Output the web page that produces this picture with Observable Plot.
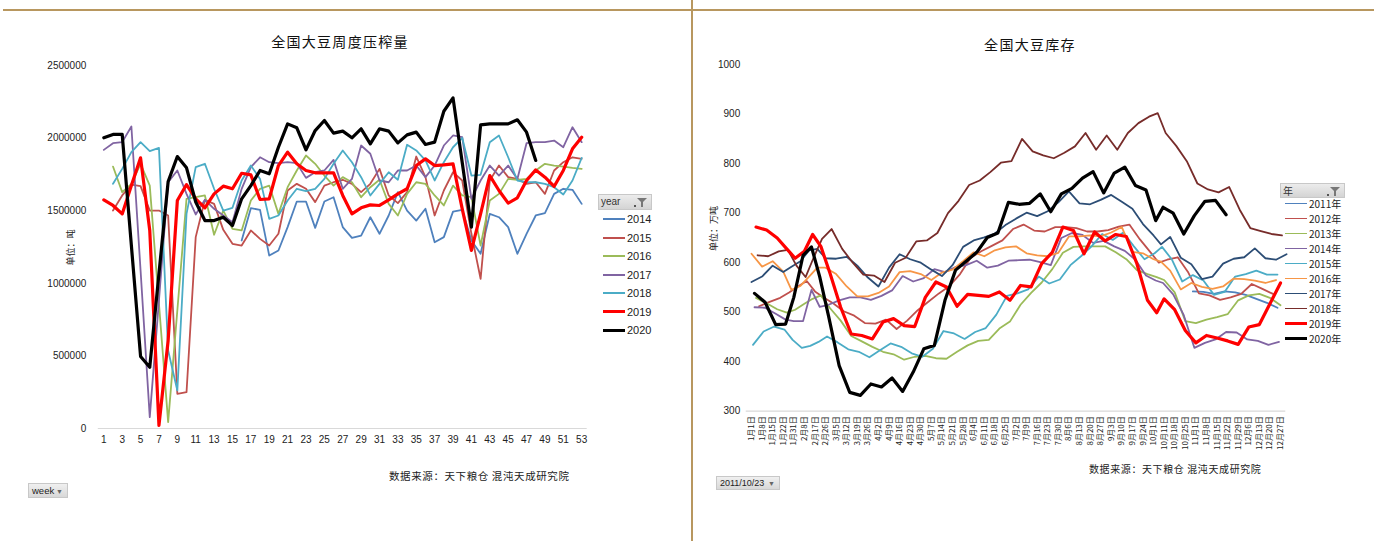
<!DOCTYPE html>
<html><head><meta charset="utf-8">
<script src="https://cdn.jsdelivr.net/npm/d3@7"></script>
<script src="https://cdn.jsdelivr.net/npm/@observablehq/plot@0.6"></script>
<style>
html,body{margin:0;padding:0;background:#fff;}
body{width:1374px;height:541px;position:relative;overflow:hidden;font-family:"Liberation Sans",Arial,sans-serif;color:#222;}
.abs{position:absolute;}
.cjk{font-family:"Noto Sans CJK SC",sans-serif;}
.gold{background:#b8975f;}
.title{font-size:14px;letter-spacing:1.3px;color:#111;text-align:center;white-space:nowrap;}
.src{font-size:10.5px;letter-spacing:0.6px;color:#222;white-space:nowrap;}
.hdr{background:linear-gradient(#ececec,#d4d4d4);border:1px solid #c8c8c8;box-sizing:border-box;font-size:10px;color:#333;}
.funnel{position:absolute;right:4px;top:3px;width:0;height:0;border-left:5px solid transparent;border-right:5px solid transparent;border-top:5px solid #777;}
.stem{position:absolute;right:8px;top:7px;width:2px;height:5px;background:#777;}
.dot{position:absolute;right:15px;top:10px;width:2px;height:2px;background:#555;}
.row{position:absolute;left:0;white-space:nowrap;}
.sw{position:absolute;left:0;width:22px;}
.lab{position:absolute;left:24px;}
.drop{background:linear-gradient(#f0f0f0,#d8d8d8);border:1px solid #c8c8c8;box-sizing:border-box;font-size:9.5px;color:#222;padding-left:3px;}
.arr{position:absolute;right:4px;top:1px;font-size:7px;color:#666;}
</style></head><body>
<div class="abs gold" style="left:3px;top:9px;width:1371px;height:2px;"></div>
<div class="abs gold" style="left:691px;top:0;width:2px;height:541px;"></div>

<div id="left" class="abs" style="left:0;top:0;width:600px;height:460px;"></div>
<div id="right" class="abs" style="left:700px;top:0;width:600px;height:470px;"></div>

<div class="abs cjk title" style="left:240px;top:31px;width:200px;">全国大豆周度压榨量</div>
<div class="abs cjk title" style="left:930px;top:34px;width:200px;">全国大豆库存</div>

<div class="abs cjk" style="left:46px;top:241px;width:48px;font-size:9px;text-align:center;transform:rotate(-90deg);white-space:nowrap;">单位：吨</div>
<div class="abs cjk" style="left:684px;top:222px;width:58px;font-size:9px;text-align:center;transform:rotate(-90deg);white-space:nowrap;">单位：万吨</div>

<div class="abs cjk src" style="left:389px;top:468px;">数据来源：天下粮仓 混沌天成研究院</div>
<div class="abs cjk src" style="left:1089px;top:461px;font-size:10px;">数据来源：天下粮仓 混沌天成研究院</div>

<div class="abs hdr" style="left:598px;top:194px;width:54px;height:16px;line-height:14px;padding-left:2px;">year<div class="dot"></div><div class="funnel"></div><div class="stem"></div></div>
<div id="legL" class="abs" style="left:603px;top:210px;width:70px;height:140px;font-size:11px;"></div>

<div class="abs hdr cjk" style="left:1280px;top:183px;width:65px;height:15px;line-height:13px;padding-left:2px;">年<div class="dot"></div><div class="funnel"></div><div class="stem"></div></div>
<div id="legR" class="abs cjk" style="left:1285px;top:196px;width:80px;height:160px;font-size:10px;"></div>

<div class="abs drop" style="left:28px;top:483px;width:40px;height:15px;line-height:13px;">week<span class="arr">▼</span></div>
<div class="abs drop" style="left:716px;top:476px;width:64px;height:14px;line-height:12px;font-size:9px;">2011/10/23<span class="arr">▼</span></div>

<script>
// ---------------- LEFT: weekly crush (tonnes) ----------------
const weekTickLabels = [1,3,5,7,9,11,13,15,17,19,21,23,25,27,29,31,33,35,37,39,41,43,45,47,49,51,53];
const crushYTicks = [0,500000,1000000,1500000,2000000,2500000];
const crushYears = ["2014","2015","2016","2017","2018","2019","2020"];
const crushColors = ["#4F81BD","#C0504D","#9BBB59","#8064A2","#4BACC6","#FF0000","#000000"];
const crushStartWeek = [16,2,2,1,2,1,1];

const crush2014 = [1295000,1517000,1506000,1191000,1226000,1387000,1563000,1563000,1382000,1563000,1593000,
  1387000,1313000,1329000,1455000,1341000,1467000,1628000,1501000,1432000,1513000,
  1283000,1318000,1494000,1506000,1295000,1203000,1478000,1455000,1387000,1203000,
  1341000,1467000,1483000,1616000,1651000,1644000,1547000];
const crush2015 = [1501000,1605000,1680000,1669000,1501000,1501000,1467000,239000,250000,1318000,
  1575000,1547000,1368000,1272000,1260000,1364000,1306000,1260000,1341000,1639000,
  1685000,1651000,1559000,1673000,1696000,
  1713000,1685000,1628000,1685000,1788000,1605000,1552000,1628000,1873000,1731000,
  1467000,1639000,1765000,1708000,1341000,1031000,1708000,1811000,1731000,1719000,
  1685000,1696000,1616000,1777000,1834000,1868000,1857000];
const crush2016 = [1804000,1628000,1685000,1823000,1673000,859000,44000,813000,1582000,1593000,
  1605000,1334000,1501000,1375000,1364000,1570000,1651000,1673000,1478000,1662000,
  1777000,1880000,1823000,1742000,1673000,
  1731000,1696000,1593000,1662000,1713000,1547000,1467000,1616000,1696000,1685000,
  1605000,1536000,1673000,1605000,1593000,1260000,1570000,1616000,1719000,1713000,
  1719000,1777000,1823000,1811000,1804000,1795000,1788000];
const crush2017 = [1919000,1965000,1972000,2080000,1088000,78000,882000,1696000,1777000,1616000,
  1474000,1575000,1513000,1467000,1421000,1651000,1800000,1868000,1834000,1827000,
  1834000,1827000,1726000,1765000,1777000,1850000,
  1651000,1719000,1949000,1892000,1708000,1696000,1777000,1777000,1811000,1731000,
  1811000,1949000,2018000,2006000,1582000,1708000,1811000,1742000,1811000,1719000,
  1965000,1972000,1972000,1983000,1937000,2075000,1972000];
const crush2018 = [1685000,1788000,1903000,1972000,1910000,1933000,537000,262000,1478000,1800000,
  1823000,1651000,1501000,1520000,1708000,1811000,1719000,1444000,1467000,1570000,
  1651000,1634000,1651000,1719000,1823000,
  1915000,1834000,1731000,1605000,1685000,1765000,1713000,1954000,1915000,1846000,
  1708000,1834000,1937000,2002000,1742000,1747000,1972000,2018000,1868000,1708000,
  1696000,1696000,1685000,1662000,1612000,1708000,1864000];
const crush2019 = [1575000,1536000,1478000,1673000,1864000,1364000,21000,606000,1570000,1680000,
  1582000,1520000,1616000,1669000,1651000,1758000,1747000,1577000,1582000,1811000,
  1903000,1823000,1777000,1761000,1761000,1761000,
  1605000,1478000,1520000,1540000,1536000,1575000,1616000,1651000,1811000,1857000,
  1811000,1816000,1823000,1513000,1226000,1478000,1742000,1639000,1552000,1589000,
  1708000,1781000,1731000,1667000,1777000,1926000,2006000];
const crush2020 = [2002000,2025000,2025000,1260000,496000,422000,1067000,1701000,1873000,1795000,
  1560000,1432000,1432000,1455000,1398000,1582000,1673000,1777000,1754000,1937000,
  2098000,2071000,1919000,2052000,2121000,2034000,
  2048000,2002000,2064000,1960000,2064000,2048000,1967000,2022000,2041000,1956000,
  1972000,2185000,2277000,1832000,1387000,2091000,2098000,2098000,2098000,2126000,
  2041000,1846000];
const crushValues = [crush2014,crush2015,crush2016,crush2017,crush2018,crush2019,crush2020];

// ---------------- RIGHT: soybean stocks (10k tonnes) ----------------
const dateLabels = ["1月1日","1月8日","1月15日","1月22日","1月31日","2月8日","2月17日","2月26日","3月5日","3月12日",
  "3月19日","3月26日","4月2日","4月9日","4月16日","4月23日","4月30日","5月7日","5月14日","5月21日",
  "5月28日","6月4日","6月11日","6月18日","6月25日","7月2日","7月9日","7月16日","7月23日","7月30日",
  "8月6日","8月13日","8月20日","8月27日","9月3日","9月10日","9月17日","9月24日","10月1日","10月11日",
  "10月18日","10月25日","11月1日","11月8日","11月15日","11月22日","11月29日","12月6日","12月13日","12月20日","12月27日"];
const stockYTicks = [300,400,500,600,700,800,900,1000];
const stockYears = ["2011年","2012年","2013年","2014年","2015年","2016年","2017年","2018年","2019年","2020年"];
const stockColors = ["#4F81BD","#C0504D","#9BBB59","#8064A2","#4BACC6","#F79646","#2C4D75","#772C2A","#FF0000","#000000"];
const stockStart = ["10月30日","1月6日","1月4日","1月3日","1月2日","1月1日","1月1日","1月5日","1月4日","1月3日"];

const stock2011 = [542,541,537,542,540,535,527,519,509];
const stock2012 = [512,521,529,540,552,563,542,530,518,502,493,478,477,485,466,483,504,521,538,553,
  577,610,623,634,645,668,677,665,663,672,672,670,663,663,666,673,677,647,621,600,
  606,611,580,538,534,525,530,537,557,547,537];
const stock2013 = [529,518,506,499,505,517,527,534,508,483,452,441,430,420,415,404,410,412,407,406,
  420,433,442,444,467,481,515,539,560,587,620,632,633,633,633,621,607,585,577,571,
  565,540,482,478,485,490,496,524,534,537,529,514];
const stock2014 = [510,509,497,485,482,482,545,511,515,524,530,530,525,533,544,573,562,569,587,581,
  591,595,604,590,594,604,605,606,601,595,650,660,656,640,644,633,624,606,574,564,
  559,536,494,428,438,445,460,459,445,442,434,440];
const stock2015 = [434,461,471,465,444,428,432,440,451,439,425,420,409,423,437,430,417,410,426,462,
  457,446,460,468,495,533,538,546,572,558,566,595,613,633,658,646,661,633,607,619,
  632,607,562,575,564,535,541,572,577,584,576,576];
const stock2016 = [618,592,603,582,545,553,572,590,590,577,552,532,532,539,552,581,583,577,565,580,
  586,603,621,613,625,631,633,619,615,613,620,653,653,655,653,661,672,622,619,607,
  602,584,546,559,551,547,552,568,567,564,559,565];
const stock2017 = [561,572,594,581,592,603,625,628,609,608,612,594,570,552,590,617,607,600,586,573,
  595,632,645,651,659,676,689,701,694,704,722,744,720,718,727,737,723,709,678,655,
  637,652,610,597,567,572,598,608,611,629,609,606,617];
const stock2018 = [615,613,623,626,594,571,611,648,668,628,600,576,574,561,600,610,643,645,660,700,
  725,757,766,783,802,805,850,825,817,811,822,835,862,828,857,828,862,882,895,902,
  862,836,805,760,748,742,753,707,670,664,658,655];
const stock2019 = [672,666,650,628,609,623,657,633,578,510,456,453,446,480,487,473,471,530,561,551,
  512,536,534,532,541,524,554,551,598,621,672,665,618,662,644,657,653,598,524,499,
  527,505,463,438,453,448,442,435,470,475,517,559];
const stock2020 = [538,520,475,476,530,615,632,572,492,392,338,332,355,349,367,340,379,426,433,524,
  585,603,621,651,660,722,718,720,739,703,739,750,771,784,741,781,793,756,747,685,
  712,700,658,695,724,726,697];
const stockValues = [stock2011,stock2012,stock2013,stock2014,stock2015,stock2016,stock2017,stock2018,stock2019,stock2020];

// ---------------- helpers ----------------
const thick = y => (y.startsWith("2019") || y.startsWith("2020")) ? 3.2 : 1.8;
const mdToDay = s => { const [, m, d] = s.match(/(\d+)月(\d+)日/); return d3.timeDay.count(new Date(2019,0,0), new Date(2019,+m-1,+d)); };
const labelDays = dateLabels.map(mdToDay);
const dayToPos = d3.scaleLinear().domain(labelDays).range(labelDays.map((_, i) => i));

// ---------------- LEFT CHART ----------------
const crushData = crushYears.map((yr, si) => crushValues[si].map((v, i) => ({year: yr, week: crushStartWeek[si] + i, value: v})));
const leftPlot = Plot.plot({
  width: 600, height: 460,
  marginLeft: 97.8, marginRight: 13.3, marginTop: 65, marginBottom: 32,
  style: {background: "transparent", fontFamily: "Liberation Sans, Arial, sans-serif", fontSize: "10px", color: "#222", overflow: "visible"},
  x: {domain: [0.4, 53.6]},
  y: {domain: [0, 2500000]},
  marks: [
    Plot.ruleY([0], {stroke: "#d9d9d9", strokeWidth: 1.2}),
    Plot.axisX({ticks: weekTickLabels, tickFormat: d => String(d), tickSize: 0, tickPadding: 7, label: null}),
    Plot.axisY({ticks: crushYTicks, tickFormat: d => String(d), tickSize: 0, tickPadding: 12, label: null}),
    ...crushYears.map((yr, si) => Plot.line(crushData[si], {x: "week", y: "value", stroke: crushColors[si], strokeWidth: thick(yr), strokeLinejoin: "round"}))
  ]
});
document.getElementById("left").appendChild(leftPlot);

// ---------------- RIGHT CHART ----------------
const stockData = stockYears.map((yr, si) => {
  const d0 = mdToDay(stockStart[si]);
  return stockValues[si].map((v, k) => ({year: yr, pos: dayToPos(d0 + 7 * k), value: v}));
});
const rightPlot = Plot.plot({
  width: 600, height: 470,
  marginLeft: 45.7, marginRight: 14.7, marginTop: 64.2, marginBottom: 59.3,
  style: {background: "transparent", fontFamily: "Liberation Sans, Arial, sans-serif", fontSize: "10px", color: "#222", overflow: "visible"},
  x: {domain: [-0.5, 50.5]},
  y: {domain: [300, 1000]},
  marks: [
    Plot.ruleY([300], {stroke: "#d9d9d9", strokeWidth: 1.2}),
    Plot.axisX({ticks: dateLabels.map((_, i) => i), tickFormat: i => dateLabels[i], tickRotate: -90, tickSize: 0, tickPadding: 5, fontSize: 8, fontFamily: "Noto Sans CJK SC, sans-serif", label: null}),
    Plot.axisY({ticks: stockYTicks, tickFormat: d => String(d), tickSize: 0, tickPadding: 6, label: null}),
    ...stockYears.map((yr, si) => Plot.line(stockData[si], {x: "pos", y: "value", stroke: stockColors[si], strokeWidth: thick(yr), strokeLinejoin: "round"}))
  ]
});
document.getElementById("right").appendChild(rightPlot);

// ---------------- legends ----------------
const legL = document.getElementById("legL");
crushYears.forEach((yr, i) => {
  const r = document.createElement("div");
  r.className = "row"; r.style.top = (i * 18.5) + "px"; r.style.height = "18.5px"; r.style.lineHeight = "18.5px";
  const w = thick(yr);
  r.innerHTML = `<div class="sw" style="top:${9.25 - w / 2}px;height:${w}px;background:${crushColors[i]}"></div><div class="lab">${yr}</div>`;
  legL.appendChild(r);
});
const legR = document.getElementById("legR");
stockYears.forEach((yr, i) => {
  const r = document.createElement("div");
  r.className = "row"; r.style.top = (i * 15) + "px"; r.style.height = "15px"; r.style.lineHeight = "15px";
  const w = thick(yr);
  r.innerHTML = `<div class="sw" style="top:${7.5 - w / 2}px;height:${w}px;background:${stockColors[i]}"></div><div class="lab">${yr}</div>`;
  legR.appendChild(r);
});
</script>
</body></html>
